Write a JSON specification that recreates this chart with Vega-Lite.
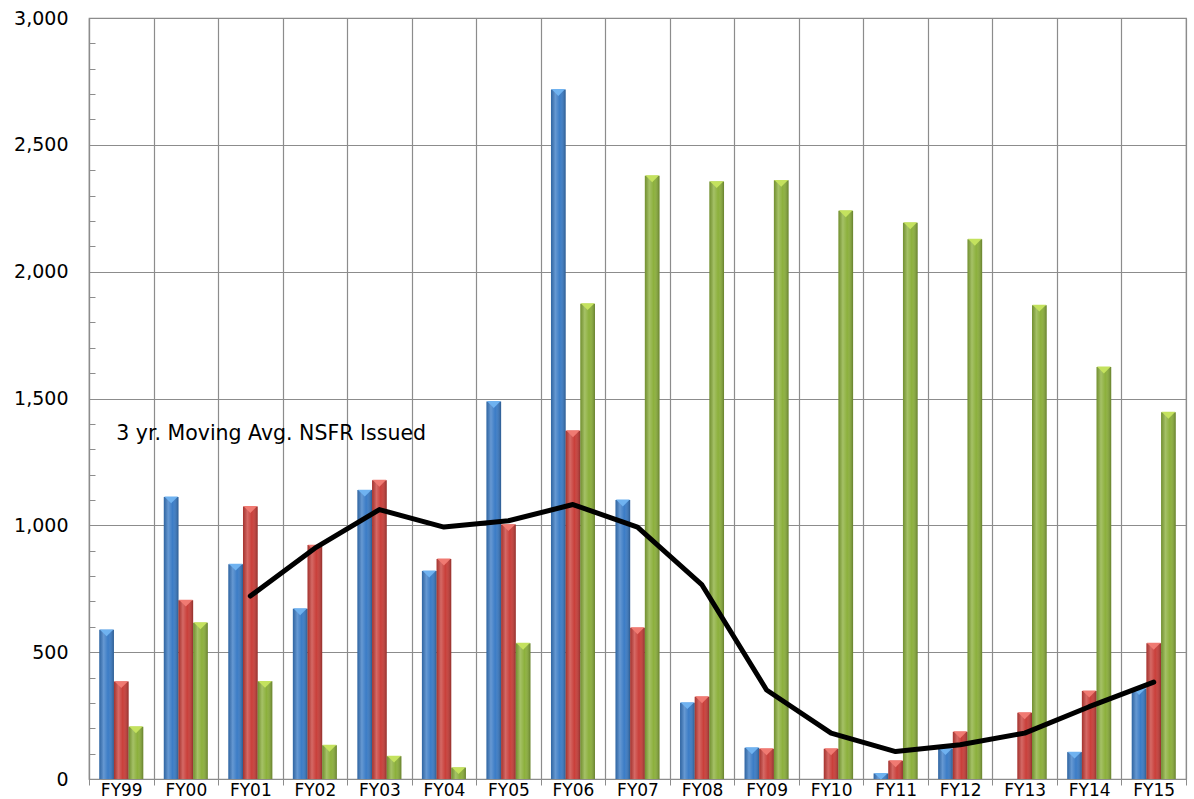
{
  "$schema": "https://vega.github.io/schema/vega-lite/v6.json",
  "width": 1097,
  "height": 761,
  "autosize": {"type": "none"},
  "padding": {"left": 89, "top": 18, "right": 8, "bottom": 20},
  "background": "white",
  "config": {
    "view": {"stroke": "#8c8c8c", "strokeWidth": 1.2},
    "font": "DejaVu Sans"
  },
  "datasets": {
    "bars": [
      {"fy": "FY99", "series": "A", "value": 588}, {"fy": "FY99", "series": "B", "value": 384}, {"fy": "FY99", "series": "C", "value": 206},
      {"fy": "FY00", "series": "A", "value": 1112}, {"fy": "FY00", "series": "B", "value": 705}, {"fy": "FY00", "series": "C", "value": 616},
      {"fy": "FY01", "series": "A", "value": 847}, {"fy": "FY01", "series": "B", "value": 1074}, {"fy": "FY01", "series": "C", "value": 385},
      {"fy": "FY02", "series": "A", "value": 671}, {"fy": "FY02", "series": "B", "value": 922}, {"fy": "FY02", "series": "C", "value": 133},
      {"fy": "FY03", "series": "A", "value": 1139}, {"fy": "FY03", "series": "B", "value": 1178}, {"fy": "FY03", "series": "C", "value": 90},
      {"fy": "FY04", "series": "A", "value": 820}, {"fy": "FY04", "series": "B", "value": 867}, {"fy": "FY04", "series": "C", "value": 45},
      {"fy": "FY05", "series": "A", "value": 1488}, {"fy": "FY05", "series": "B", "value": 1003}, {"fy": "FY05", "series": "C", "value": 535},
      {"fy": "FY06", "series": "A", "value": 2718}, {"fy": "FY06", "series": "B", "value": 1373}, {"fy": "FY06", "series": "C", "value": 1874},
      {"fy": "FY07", "series": "A", "value": 1100}, {"fy": "FY07", "series": "B", "value": 596}, {"fy": "FY07", "series": "C", "value": 2378},
      {"fy": "FY08", "series": "A", "value": 301}, {"fy": "FY08", "series": "B", "value": 324}, {"fy": "FY08", "series": "C", "value": 2355},
      {"fy": "FY09", "series": "A", "value": 123}, {"fy": "FY09", "series": "B", "value": 119}, {"fy": "FY09", "series": "C", "value": 2360},
      {"fy": "FY10", "series": "A", "value": 0}, {"fy": "FY10", "series": "B", "value": 119}, {"fy": "FY10", "series": "C", "value": 2240},
      {"fy": "FY11", "series": "A", "value": 22}, {"fy": "FY11", "series": "B", "value": 72}, {"fy": "FY11", "series": "C", "value": 2193},
      {"fy": "FY12", "series": "A", "value": 120}, {"fy": "FY12", "series": "B", "value": 186}, {"fy": "FY12", "series": "C", "value": 2128},
      {"fy": "FY13", "series": "A", "value": 0}, {"fy": "FY13", "series": "B", "value": 261}, {"fy": "FY13", "series": "C", "value": 1868},
      {"fy": "FY14", "series": "A", "value": 106}, {"fy": "FY14", "series": "B", "value": 347}, {"fy": "FY14", "series": "C", "value": 1624},
      {"fy": "FY15", "series": "A", "value": 357}, {"fy": "FY15", "series": "B", "value": 535}, {"fy": "FY15", "series": "C", "value": 1446}
    ],
    "avg": [
      {"fy": "FY01", "value": 721}, {"fy": "FY02", "value": 910}, {"fy": "FY03", "value": 1062},
      {"fy": "FY04", "value": 993}, {"fy": "FY05", "value": 1018}, {"fy": "FY06", "value": 1082},
      {"fy": "FY07", "value": 993}, {"fy": "FY08", "value": 765}, {"fy": "FY09", "value": 351},
      {"fy": "FY10", "value": 181}, {"fy": "FY11", "value": 108}, {"fy": "FY12", "value": 135},
      {"fy": "FY13", "value": 181}, {"fy": "FY14", "value": 285}, {"fy": "FY15", "value": 382}
    ],
    "note": [
      {"fy": "FY99", "value": 1360, "label": "3 yr. Moving Avg. NSFR Issued"}
    ]
  },
  "encoding": {
    "x": {
      "field": "fy",
      "type": "nominal",
      "sort": ["FY99","FY00","FY01","FY02","FY03","FY04","FY05","FY06","FY07","FY08","FY09","FY10","FY11","FY12","FY13","FY14","FY15"],
      "scale": {"domain": ["FY99","FY00","FY01","FY02","FY03","FY04","FY05","FY06","FY07","FY08","FY09","FY10","FY11","FY12","FY13","FY14","FY15"], "paddingInner": 0, "paddingOuter": 0},
      "axis": {
        "title": null,
        "labelAngle": 0,
        "tickBand": "extent",
        "grid": true,
        "gridColor": "#8c8c8c",
        "gridWidth": 1.2,
        "domainColor": "#8c8c8c",
        "tickColor": "#8c8c8c",
        "tickSize": 6,
        "labelFontSize": 17,
        "labelColor": "#000000",
        "labelPadding": -3,
        "labelFont": "DejaVu Sans"
      }
    },
    "y": {
      "field": "value",
      "type": "quantitative",
      "scale": {"domain": [0, 3000], "nice": false},
      "axis": {
        "title": null,
        "values": [0,100,200,300,400,500,600,700,800,900,1000,1100,1200,1300,1400,1500,1600,1700,1800,1900,2000,2100,2200,2300,2400,2500,2600,2700,2800,2900,3000],
        "labelExpr": "datum.value % 500 === 0 ? format(datum.value, ',') : ''",
        "labelOverlap": false,
        "grid": true,
        "gridColor": "#8c8c8c",
        "gridWidth": 1.2,
        "gridOpacity": {"condition": {"test": "datum.value % 500 === 0", "value": 1}, "value": 0},
        "domainColor": "#8c8c8c",
        "domainWidth": 1.2,
        "tickColor": "#8c8c8c",
        "tickSize": -6,
        "labelPadding": 27,
        "labelFontSize": 19,
        "labelColor": "#000000",
        "labelFont": "DejaVu Sans"
      }
    }
  },
  "layer": [
    {
      "data": {"name": "bars"},
      "mark": {"type": "bar"},
      "encoding": {
        "xOffset": {"field": "series", "type": "nominal", "scale": {"domain": ["A","B","C"], "paddingInner": 0, "paddingOuter": 0.7}},
        "color": {"field": "series", "type": "nominal", "legend": null, "scale": {"domain": ["A","B","C"], "range": ["#3b7cc6", "#c93f3a", "#8cb03c"]}}
      }
    },
    {
      "data": {"name": "bars"},
      "mark": {
        "type": "bar",
        "color": {
          "gradient": "linear", "x1": 0, "x2": 1, "y1": 0, "y2": 0,
          "stops": [
            {"offset": 0, "color": "rgba(0,0,0,0.18)"},
            {"offset": 0.3, "color": "rgba(255,255,255,0.22)"},
            {"offset": 0.6, "color": "rgba(255,255,255,0.0)"},
            {"offset": 1, "color": "rgba(0,0,0,0.28)"}
          ]
        }
      },
      "encoding": {
        "xOffset": {"field": "series", "type": "nominal"}
      }
    },
    {
      "data": {"name": "bars"},
      "transform": [{"filter": "datum.value > 5"}],
      "mark": {"type": "point", "shape": "M-1,-0.5L1,-0.5L0,0.5Z", "filled": true, "opacity": 1, "size": 190, "yOffset": 3},
      "encoding": {
        "xOffset": {"field": "series", "type": "nominal"},
        "fill": {"field": "series", "type": "nominal", "legend": null, "scale": {"domain": ["A","B","C"], "range": ["#6fb2f0", "#f07a72", "#c4e25e"]}}
      }
    },
    {
      "data": {"name": "avg"},
      "mark": {"type": "line", "color": "#000000", "strokeWidth": 5, "strokeCap": "round", "strokeJoin": "round"},
      "encoding": {}
    },
    {
      "data": {"name": "note"},
      "mark": {"type": "text", "align": "left", "baseline": "middle", "fontSize": 20.5, "font": "DejaVu Sans", "color": "#000000", "dx": -5},
      "encoding": {
        "text": {"field": "label", "type": "nominal"}
      }
    }
  ],
  "resolve": {"scale": {"color": "independent"}}
}
